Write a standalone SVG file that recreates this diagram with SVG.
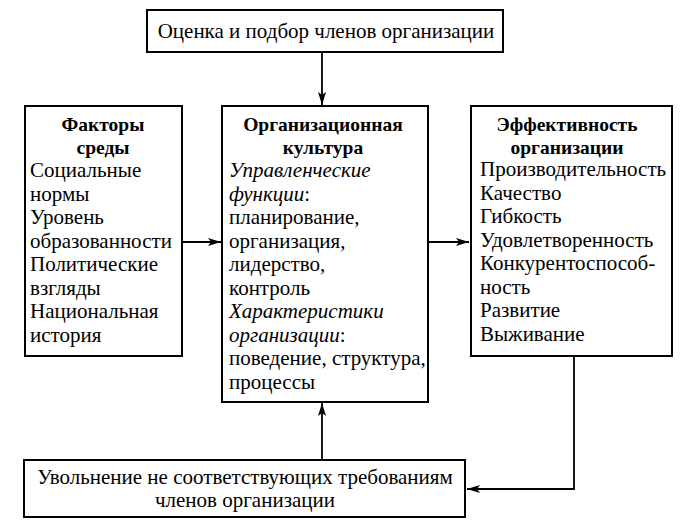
<svg xmlns="http://www.w3.org/2000/svg" width="688" height="529" viewBox="0 0 688 529">
<defs>
<marker id="ah" viewBox="0 0 13 8" refX="13" refY="4" markerWidth="13" markerHeight="8" markerUnits="userSpaceOnUse" orient="auto">
<path d="M0,0 L13,4 L0,8 L3,4 Z" fill="#000"/>
</marker>
<style>
.box{fill:#fff;stroke:#000;stroke-width:2}
.t{font-family:"Liberation Serif","Times New Roman",serif;font-size:21px;fill:#000}
.h{font-family:"Liberation Serif","Times New Roman",serif;font-size:19.5px;font-weight:bold;fill:#000;text-anchor:middle}
.i{font-style:italic}
.c{text-anchor:middle}
.ln{fill:none;stroke:#000;stroke-width:1.8}
</style>
</defs>
<rect width="688" height="529" fill="#fff"/>
<g id="connectors">
<line class="ln" x1="322" y1="52" x2="322" y2="105" marker-end="url(#ah)"/>
<line class="ln" x1="182" y1="242" x2="221" y2="242" marker-end="url(#ah)"/>
<line class="ln" x1="428" y1="242" x2="469" y2="242" marker-end="url(#ah)"/>
<line class="ln" x1="322" y1="460" x2="322" y2="403" marker-end="url(#ah)"/>
<polyline class="ln" points="574,356 574,489 467,489" marker-end="url(#ah)"/>
</g>
<g id="top">
<rect class="box" x="147" y="10" width="356" height="42"/>
<text class="t c" x="326" y="38">Оценка и подбор членов организации</text>
</g>
<g id="factors">
<rect class="box" x="25" y="106" width="157" height="250"/>
<text class="h" x="103" y="131">Факторы</text>
<text class="h" x="103" y="154">среды</text>
<text class="t" x="30" y="177">Социальные</text>
<text class="t" x="30" y="200.5">нормы</text>
<text class="t" x="30" y="224">Уровень</text>
<text class="t" x="30" y="247.5">образованности</text>
<text class="t" x="30" y="271">Политические</text>
<text class="t" x="30" y="294.5">взгляды</text>
<text class="t" x="30" y="318">Национальная</text>
<text class="t" x="30" y="341.5">история</text>
</g>
<g id="culture">
<rect class="box" x="222" y="106" width="206" height="296"/>
<text class="h" x="323" y="131">Организационная</text>
<text class="h" x="323" y="154">культура</text>
<text class="t i" x="229" y="177">Управленческие</text>
<text class="t" x="229" y="200.5"><tspan class="i">функции</tspan>:</text>
<text class="t" x="229" y="224">планирование,</text>
<text class="t" x="229" y="247.5">организация,</text>
<text class="t" x="229" y="271">лидерство,</text>
<text class="t" x="229" y="294.5">контроль</text>
<text class="t i" x="229" y="318">Характеристики</text>
<text class="t" x="229" y="341.5"><tspan class="i">организации</tspan>:</text>
<text class="t" x="229" y="365">поведение, структура,</text>
<text class="t" x="229" y="388.5">процессы</text>
</g>
<g id="efficiency">
<rect class="box" x="471" y="106" width="201" height="250"/>
<text class="h" x="567" y="131">Эффективность</text>
<text class="h" x="567" y="154">организации</text>
<text class="t" x="480" y="176">Производительность</text>
<text class="t" x="480" y="199.5">Качество</text>
<text class="t" x="480" y="223">Гибкость</text>
<text class="t" x="480" y="246.5">Удовлетворенность</text>
<text class="t" x="480" y="270">Конкурентоспособ-</text>
<text class="t" x="480" y="293.5">ность</text>
<text class="t" x="480" y="317">Развитие</text>
<text class="t" x="480" y="340.5">Выживание</text>
</g>
<g id="dismissal">
<rect class="box" x="24" y="460" width="441" height="57"/>
<text class="t c" x="245" y="484">Увольнение не соответствующих требованиям</text>
<text class="t c" x="245" y="507">членов организации</text>
</g>
</svg>
